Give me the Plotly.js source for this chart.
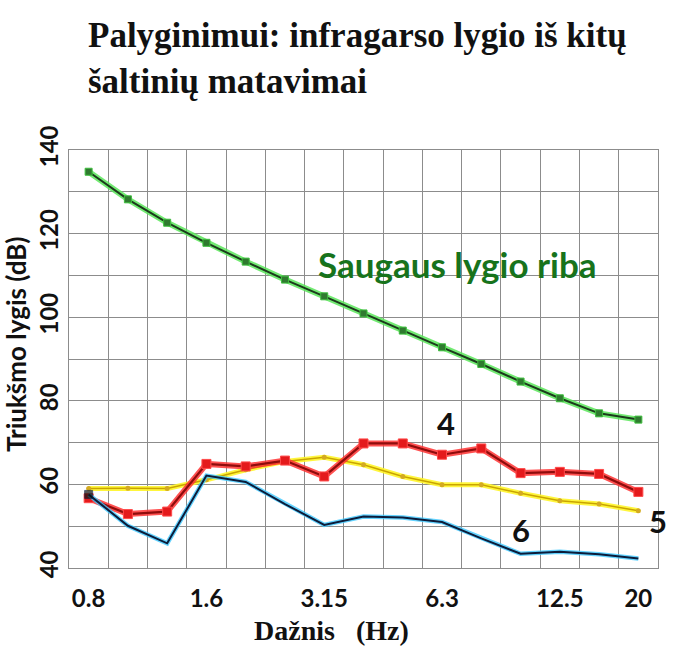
<!DOCTYPE html>
<html>
<head>
<meta charset="utf-8">
<script src="https://cdn.plot.ly/plotly-3.0.1.min.js"></script>
<style>html,body{margin:0;padding:0;background:#fff;}#chart{width:692px;height:659px;}</style>
</head>
<body>
<div id="chart"></div>
<script>
// 1/3-octave band centre frequencies (Hz)
const categories = ['0.8','1','1.25','1.6','2','2.5','3.15','4','5','6.3','8','10','12.5','16','20'];
const tickLabels = ['0.8','1.6','3.15','6.3','12.5','20'];

// Noise level (dB) per band
const safeLimit = [134.8,128.2,122.6,117.8,113.3,109.0,105.0,100.9,96.8,92.8,88.8,84.6,80.6,77.0,75.5];
const source4   = [56.7,52.9,53.5,64.9,64.3,65.7,61.9,69.8,69.8,67.1,68.6,62.7,63.0,62.5,58.2];
const source5   = [59.0,59.1,59.0,61.1,63.5,65.5,66.5,64.7,61.9,59.9,59.9,57.9,56.1,55.3,53.7];
const source6   = [57.6,50.1,45.9,62.1,60.6,55.3,50.3,52.3,52.1,51.0,47.1,43.4,43.9,43.3,42.3];

const xs = categories.map((_, i) => i);
const tickvals = tickLabels.map(l => categories.indexOf(l));

const sans = 'Lato, "Open Sans", sans-serif';
const serif = '"Liberation Serif", "DejaVu Serif", serif';

function halo(y, color, width) {
  return {x: xs, y: y, type: 'scatter', mode: 'lines', hoverinfo: 'skip',
          line: {color: color, width: width}, showlegend: false};
}

const traces = [
  halo(safeLimit, 'rgba(90,230,90,0.85)', 6),
  {x: xs, y: safeLimit, type: 'scatter', mode: 'lines+markers', showlegend: false,
   line: {color: '#1c3a1c', width: 2},
   marker: {symbol: 'square', size: 7, color: '#2f7a2f', line: {color: '#3fbf3f', width: 1}}},
  halo(source5, 'rgba(255,245,40,0.9)', 5),
  {x: xs, y: source5, type: 'scatter', mode: 'lines+markers', showlegend: false,
   line: {color: '#c9a400', width: 1.5},
   marker: {symbol: 'circle', size: 5, color: '#d4aa20'}},
  halo(source4, 'rgba(255,50,50,0.85)', 6),
  {x: xs, y: source4, type: 'scatter', mode: 'lines+markers', showlegend: false,
   line: {color: '#8e0c0c', width: 2.2},
   marker: {symbol: 'square', size: 9, color: '#e41a1c', line: {color: '#ff4a4a', width: 1}}},
  halo(source6, 'rgba(60,200,255,0.8)', 4.5),
  {x: xs, y: source6, type: 'scatter', mode: 'lines+markers', showlegend: false,
   line: {color: '#0c1c3a', width: 2},
   marker: {symbol: 'square', size: source6.map((_, i) => i === 0 ? 8 : 0), color: '#111'}}
];

const gridColor = '#8c8c8c';

const layout = {
  width: 692, height: 659,
  paper_bgcolor: '#ffffff', plot_bgcolor: '#ffffff',
  margin: {l: 69, r: 34, t: 150, b: 91},
  title: {
    text: 'Palyginimui: infragarso lygio iš kitų<br>šaltinių matavimai',
    x: 88 / 692, xanchor: 'left', xref: 'container',
    y: 1 - 47 / 659, yanchor: 'top', yref: 'container',
    font: {family: serif, size: 35, color: '#111', weight: 'bold'}
  },
  xaxis: {
    type: 'linear', range: [-0.5, 14.5],
    tickmode: 'array', tickvals: tickvals, ticktext: tickLabels,
    showgrid: false, zeroline: false,
    showline: true, linecolor: gridColor, linewidth: 1, mirror: true,
    ticks: '', ticklabelstandoff: 9,
    tickfont: {family: sans, size: 24, color: '#111', weight: 'bold'},
    minor: {tickmode: 'linear', tick0: 0.5, dtick: 1, showgrid: true, gridcolor: gridColor, gridwidth: 1, ticks: ''}
  },
  yaxis: {
    range: [40, 140], tickmode: 'linear', tick0: 40, dtick: 20,
    showgrid: true, gridcolor: gridColor, gridwidth: 1, zeroline: false,
    showline: true, linecolor: gridColor, linewidth: 1, mirror: true,
    ticks: '', tickangle: -90, ticklabelstandoff: 0,
    tickfont: {family: sans, size: 24, color: '#111', weight: 'bold'},
    minor: {tickmode: 'linear', tick0: 40, dtick: 10, showgrid: true, gridcolor: gridColor, gridwidth: 1, ticks: ''}
  },
  annotations: [
    {text: 'Triukšmo lygis (dB)', xref: 'paper', yref: 'paper', x: -(69 - 16) / 589, xanchor: 'center',
     y: (568 - 345) / 418, yanchor: 'middle', textangle: -90, showarrow: false,
     font: {family: sans, size: 26, color: '#111', weight: 'bold'}},
    {text: 'Dažnis   (Hz)', xref: 'paper', yref: 'paper', x: (331 - 69) / 589, xanchor: 'center',
     y: -(630 - 568) / 418, yanchor: 'middle', showarrow: false,
     font: {family: serif, size: 28, color: '#111', weight: 'bold'}},
    {text: 'Saugaus lygio riba', xref: 'x', yref: 'y', x: 9.4, y: 112.8, showarrow: false,
     font: {family: sans, size: 35, color: '#17731c', weight: 'bold'}},
    {text: '4', xref: 'x', yref: 'y', x: 9.1, y: 74.7, showarrow: false,
     font: {family: sans, size: 31, color: '#111', weight: 'bold'}},
    {text: '6', xref: 'x', yref: 'y', x: 11.0, y: 49.2, showarrow: false,
     font: {family: sans, size: 31, color: '#111', weight: 'bold'}},
    {text: '5', xref: 'paper', yref: 'y', x: (669 - 69) / 589, y: 51.3, showarrow: false,
     font: {family: sans, size: 31, color: '#111', weight: 'bold'}}
  ]
};

Plotly.newPlot('chart', traces, layout, {displayModeBar: false, staticPlot: true});
</script>
</body>
</html>
